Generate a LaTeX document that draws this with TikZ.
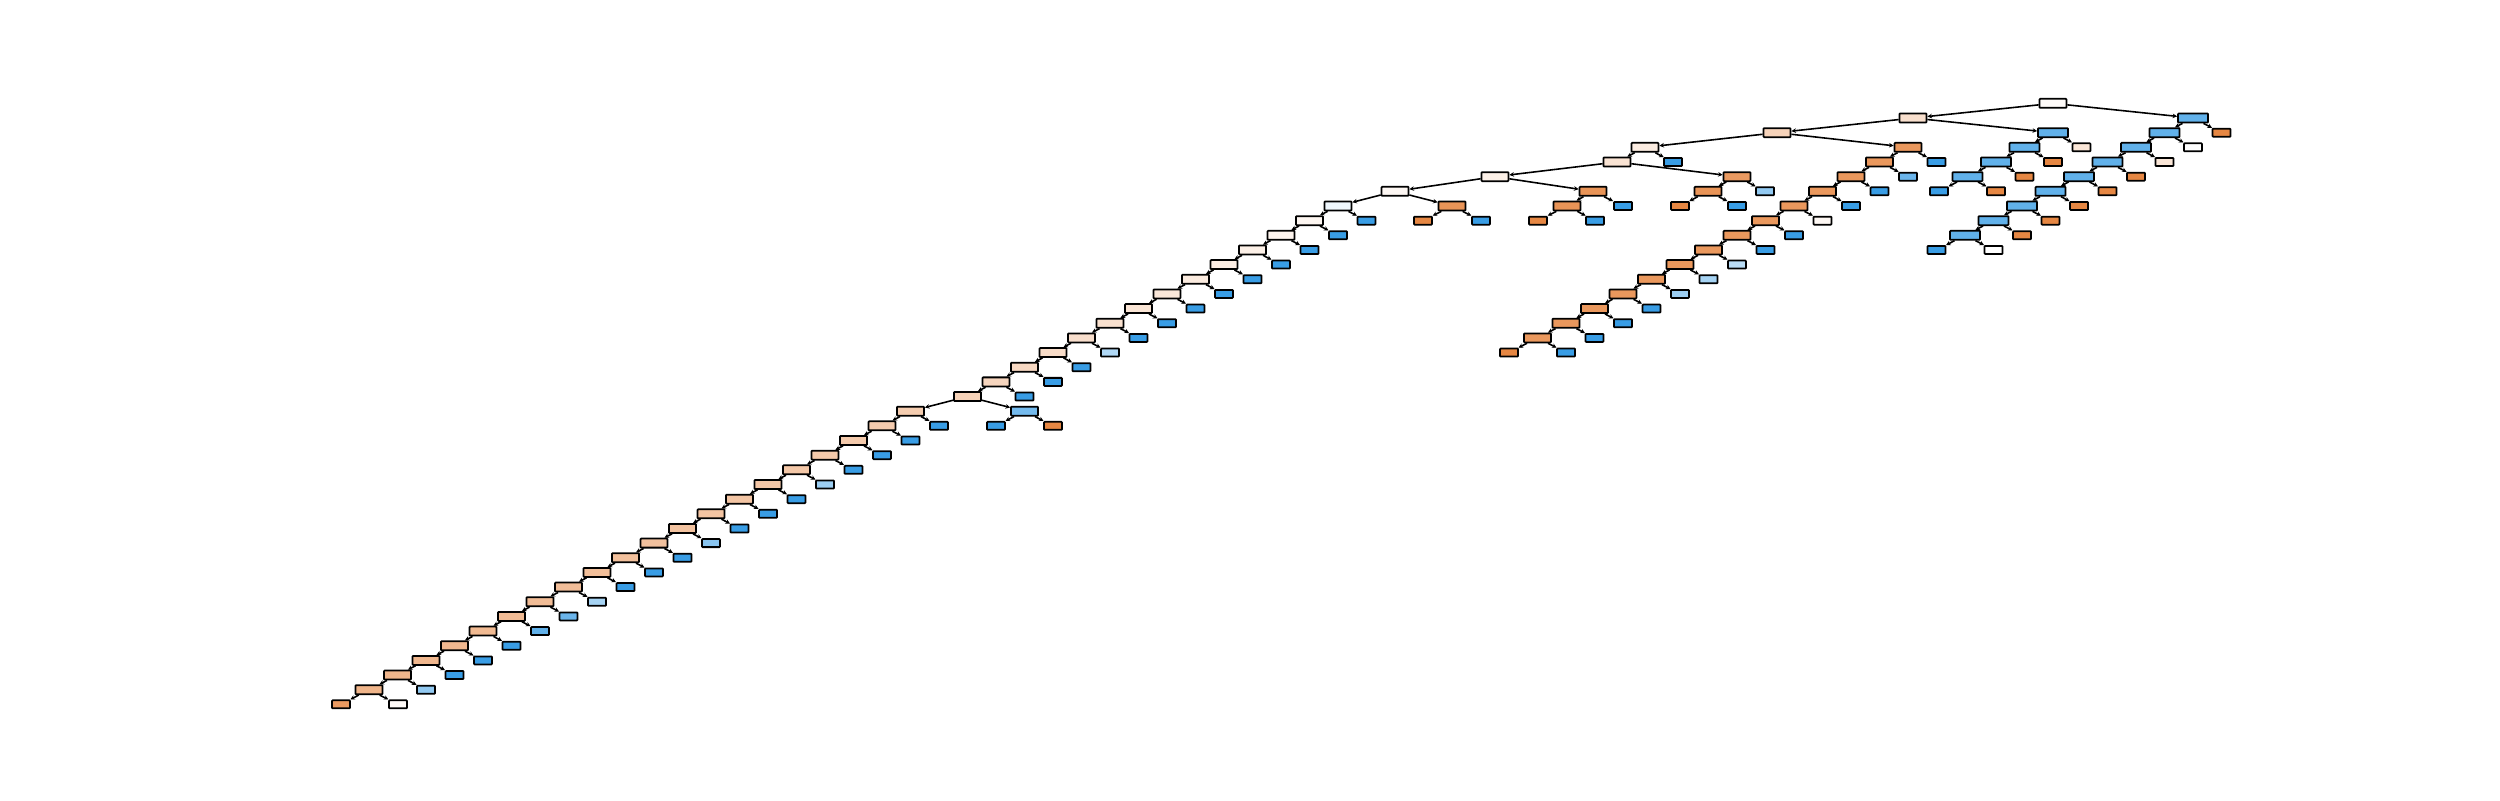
\documentclass[tikz,border=0pt]{standalone}
\usepackage{tikz}
\usetikzlibrary{arrows.meta}

\definecolor{clsA}{RGB}{229,129,57}
\definecolor{clsB}{RGB}{57,157,229}

\begin{document}
\begin{tikzpicture}[x=0.01cm, y=-0.1465cm, >={Stealth[length=1.3pt,width=1.3pt]},
    split/.style={draw, line width=0.5pt, rounded corners=0.2pt, inner sep=0pt,
        minimum width=2.7mm, minimum height=0.9mm},
    wide/.style={split, minimum width=3mm},
    leaf/.style={split, minimum width=1.8mm, minimum height=0.8mm},
    edge/.style={->, line width=0.45pt}]
    % x in pixels, y in tree depth
    \useasboundingbox (0,-7.0512) rectangle (2500,47.556);

    % Top of the tree
    \node[split, fill=clsA!3] (R) at (2053,0) {};
    \node[split, fill=clsA!25] (L) at (1913,1) {};
    \node[wide, fill=clsB!80] (B0) at (2193,1) {};
    \draw[edge] (R) -- (L);
    \draw[edge] (R) -- (B0);

    % Right branch
    \foreach \k in {1,...,8}
        \node[wide, fill=clsB!80] (B\k) at ({2193-28.5*\k},{1+\k}) {};
    \foreach \k [count=\j] in {0,...,7}
        \draw[edge] (B\k) -- (B\j);
    \foreach \k/\col in {0/clsA!95, 1/white, 2/clsA!20, 3/clsA!95, 4/clsA!95,
                         5/clsA!95, 6/clsA!95, 7/clsA!95, 8/white} {
        \node[leaf, fill=\col] (BL\k) at ({2221.5-28.5*\k},{2+\k}) {};
        \draw[edge] (B\k) -- (BL\k);
    }
    \node[leaf, fill=clsB] (B9) at (1936.5,10) {};
    \draw[edge] (B8) -- (B9);

    % Blue branch under L
    \foreach \k in {0,...,3}
        \node[wide, fill=clsB!80] (C\k) at ({2053-28.5*\k},{2+\k}) {};
    \draw[edge] (L) -- (C0);
    \foreach \k [count=\j] in {0,...,2}
        \draw[edge] (C\k) -- (C\j);
    \foreach \k/\col in {0/clsA!20, 1/clsA!95, 2/clsA!95, 3/clsA!95} {
        \node[leaf, fill=\col] (CL\k) at ({2081.5-28.5*\k},{3+\k}) {};
        \draw[edge] (C\k) -- (CL\k);
    }
    \node[leaf, fill=clsB] (C4) at (1939,6) {};
    \draw[edge] (C3) -- (C4);

    % Orange branch
    \node[split, fill=clsA!35] (P) at (1777,2) {};
    \draw[edge] (L) -- (P);
    \foreach \k in {0,...,13}
        \node[split, fill=clsA!82] (S\k) at ({1908-28.5*\k},{3+\k}) {};
    \draw[edge] (P) -- (S0);
    \foreach \k [count=\j] in {0,...,12}
        \draw[edge] (S\k) -- (S\j);
    \foreach \k/\col in {0/clsB, 1/clsB!75, 2/clsB, 3/clsB, 4/clsA!6, 5/clsB, 6/clsB,
                         7/clsB!35, 8/clsB!45, 9/clsB!50, 10/clsB, 11/clsB, 12/clsB, 13/clsB} {
        \node[leaf, fill=\col] (SL\k) at ({1936.5-28.5*\k},{4+\k}) {};
        \draw[edge] (S\k) -- (SL\k);
    }
    \node[leaf, fill=clsA!95] (S14) at (1509,17) {};
    \draw[edge] (S13) -- (S14);

    % Middle part
    \node[split, fill=clsA!15] (Q) at (1645,3) {};
    \node[leaf, fill=clsB] (QL) at (1673,4) {};
    \node[split, fill=clsA!22] (T) at (1617,4) {};
    \node[split, fill=clsA!12] (U) at (1495,5) {};
    \node[split, fill=clsA!80] (V) at (1737,5) {};
    \node[leaf, fill=clsB!55] (VL) at (1765,6) {};
    \node[split, fill=clsA!85] (V1) at (1708,6) {};
    \node[leaf, fill=clsA!95] (V2) at (1680,7) {};
    \node[leaf, fill=clsB] (V3) at (1737,7) {};
    \node[split, fill=clsA!6] (W) at (1395,6) {};
    \node[split, fill=clsA!85] (X) at (1593,6) {};
    \node[split, fill=clsA!85] (X1) at (1567,7) {};
    \node[leaf, fill=clsB] (XL) at (1623,7) {};
    \node[leaf, fill=clsA!95] (X2) at (1538,8) {};
    \node[leaf, fill=clsB] (X3) at (1595,8) {};
    \node[split, fill=clsA!85] (Y) at (1452,7) {};
    \node[leaf, fill=clsA!95] (Y1) at (1423,8) {};
    \node[leaf, fill=clsB] (Y2) at (1481,8) {};
    \draw[edge] (P) -- (Q);
    \draw[edge] (Q) -- (T);
    \draw[edge] (Q) -- (QL);
    \draw[edge] (T) -- (U);
    \draw[edge] (T) -- (V);
    \draw[edge] (V) -- (V1);
    \draw[edge] (V) -- (VL);
    \draw[edge] (V1) -- (V2);
    \draw[edge] (V1) -- (V3);
    \draw[edge] (U) -- (W);
    \draw[edge] (U) -- (X);
    \draw[edge] (X) -- (X1);
    \draw[edge] (X) -- (XL);
    \draw[edge] (X1) -- (X2);
    \draw[edge] (X1) -- (X3);
    \draw[edge] (W) -- (Y);
    \draw[edge] (Y) -- (Y1);
    \draw[edge] (Y) -- (Y2);

    % Long chain, upper half
    \node[split, fill=clsB!8] (M0) at (1338,7) {};
    \foreach \k [evaluate=\k as \c using {int(5+2.4*\k)}] in {1,...,13}
        \node[split, fill=clsA!\c] (M\k) at ({1338-28.5*\k},{7+\k}) {};
    \draw[edge] (W) -- (M0);
    \foreach \k [count=\j] in {0,...,12}
        \draw[edge] (M\k) -- (M\j);
    \foreach \k/\col in {0/clsB, 1/clsB, 2/clsB, 3/clsB, 4/clsB, 5/clsB, 6/clsB,
                         7/clsB, 8/clsB, 9/clsB!40, 10/clsB, 11/clsB, 12/clsB} {
        \node[leaf, fill=\col] (ML\k) at ({1366.5-28.5*\k},{8+\k}) {};
        \draw[edge] (M\k) -- (ML\k);
    }
    \node[split, fill=clsB!70] (Z) at (1024.5,21) {};
    \node[leaf, fill=clsB] (Z1) at (996,22) {};
    \node[leaf, fill=clsA!95] (Z2) at (1053,22) {};
    \draw[edge] (M13) -- (Z);
    \draw[edge] (Z) -- (Z1);
    \draw[edge] (Z) -- (Z2);

    % Long chain, lower half
    \foreach \k [evaluate=\k as \c using {int(40+\k)}] in {0,...,19}
        \node[split, fill=clsA!\c] (N\k) at ({910.5-28.5*\k},{21+\k}) {};
    \draw[edge] (M13) -- (N0);
    \foreach \k [count=\j] in {0,...,18}
        \draw[edge] (N\k) -- (N\j);
    \foreach \k/\col in {0/clsB, 1/clsB, 2/clsB, 3/clsB, 4/clsB!50, 5/clsB, 6/clsB,
                         7/clsB, 8/clsB!60, 9/clsB, 10/clsB, 11/clsB, 12/clsB!45,
                         13/clsB!75, 14/clsB!80, 15/clsB, 16/clsB, 17/clsB, 18/clsB!55} {
        \node[leaf, fill=\col] (NL\k) at ({939-28.5*\k},{22+\k}) {};
        \draw[edge] (N\k) -- (NL\k);
    }
    \node[leaf, fill=clsA!80] (N20) at (341,41) {};
    \node[leaf, fill=clsA!4] (N21) at (398,41) {};
    \draw[edge] (N19) -- (N20);
    \draw[edge] (N19) -- (N21);
\end{tikzpicture}
\end{document}
